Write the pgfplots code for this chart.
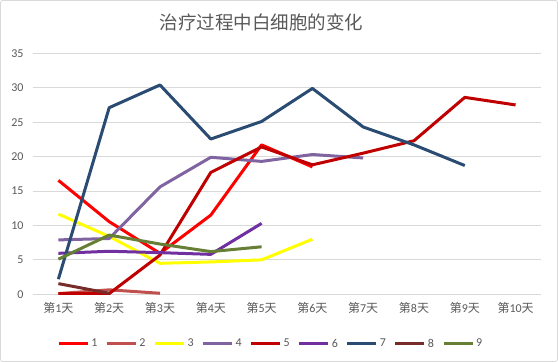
\documentclass[border=0pt]{standalone}
\usepackage{fontspec}
\setmainfont{Carlito}
\newfontfamily\cjk{Noto Sans CJK SC}
\usepackage{pgfplots}
\pgfplotsset{compat=1.18}
\definecolor{gridc}{HTML}{D9D9D9}
\definecolor{txt}{HTML}{595959}
\definecolor{cA}{HTML}{FF0000}
\definecolor{cB}{HTML}{C0504D}
\definecolor{cC}{HTML}{FFFF00}
\definecolor{cD}{HTML}{8064A2}
\definecolor{cE}{HTML}{C00000}
\definecolor{cF}{HTML}{7030A0}
\definecolor{cG}{HTML}{2A4B72}
\definecolor{cH}{HTML}{772C2A}
\definecolor{cI}{HTML}{667F35}
\newcommand{\dl}[1]{{\cjk 第}#1{\cjk 天}}
\begin{document}
\begin{tikzpicture}
\path[use as bounding box] (0,0) rectangle (558pt,362pt);
\draw[gridc, line width=0.75pt, rounded corners=2pt] (0.5pt,0.5pt) rectangle (557.5pt,361.5pt);
\node[text=txt, font=\cjk\fontsize{18.5}{20}\selectfont] at (261.5pt,340pt) {治疗过程中白细胞的变化};
\begin{axis}[
  at={(33pt,67.7pt)}, anchor=south west,
  scale only axis, width=508pt, height=241pt,
  xmin=0.5, xmax=10.5, ymin=0, ymax=35,
  xtick={1,...,10},
  xticklabels={\dl{1},\dl{2},\dl{3},\dl{4},\dl{5},\dl{6},\dl{7},\dl{8},\dl{9},\dl{10}},
  ytick={0,5,...,35},
  major tick length=0pt,
  axis x line=bottom, axis y line=left,
  x axis line style={-, draw=gridc, line width=0.75pt},
  y axis line style={draw=none},
  ymajorgrids, grid style={gridc, line width=0.75pt},
  /pgf/number format/assume math mode=true,
  ticklabel style={text=txt, font=\fontsize{12}{14}\selectfont},
  xticklabel style={yshift=-5pt},
  yticklabel style={xshift=-6pt},
  every axis plot/.append style={line width=3pt, line join=round, mark=none},
  legend image code/.code={\draw[#1, line width=3pt] (0pt,0pt) -- (29pt,0pt);},
  legend columns=9,
  legend style={draw=none, fill=none, text=txt, font=\fontsize{12}{14}\selectfont,
    at={(0.468,-0.205)}, anchor=center,
    /tikz/every even column/.append style={column sep=6pt}},
]
\addplot[cA] coordinates {(1,16.55)(2,10.55)(3,5.95)(4,11.5)(5,21.7)(6,18.5)};
\addplot[cB] coordinates {(1,0.1)(2,0.65)(3,0.15)};
\addplot[cC] coordinates {(1,11.65)(2,8.4)(3,4.5)(4,4.7)(5,5.0)(6,8.0)};
\addplot[cD] coordinates {(1,7.9)(2,8.1)(3,15.6)(4,19.9)(5,19.3)(6,20.3)(7,19.8)};
\addplot[cE] coordinates {(1,0.1)(2,0.1)(3,5.7)(4,17.7)(5,21.4)(6,18.8)(7,20.5)(8,22.3)(9,28.6)(10,27.5)};
\addplot[cF] coordinates {(1,5.95)(2,6.25)(3,6.05)(4,5.8)(5,10.3)};
\addplot[cG] coordinates {(1,2.2)(2,27.1)(3,30.4)(4,22.55)(5,25.1)(6,29.9)(7,24.3)(8,21.7)(9,18.7)};
\addplot[cH] coordinates {(1,1.55)(2,0.15)};
\addplot[cI] coordinates {(1,5.1)(2,8.6)(3,7.3)(4,6.2)(5,6.9)};
\legend{1,2,3,4,5,6,7,8,9}
\end{axis}
\end{tikzpicture}
\end{document}
